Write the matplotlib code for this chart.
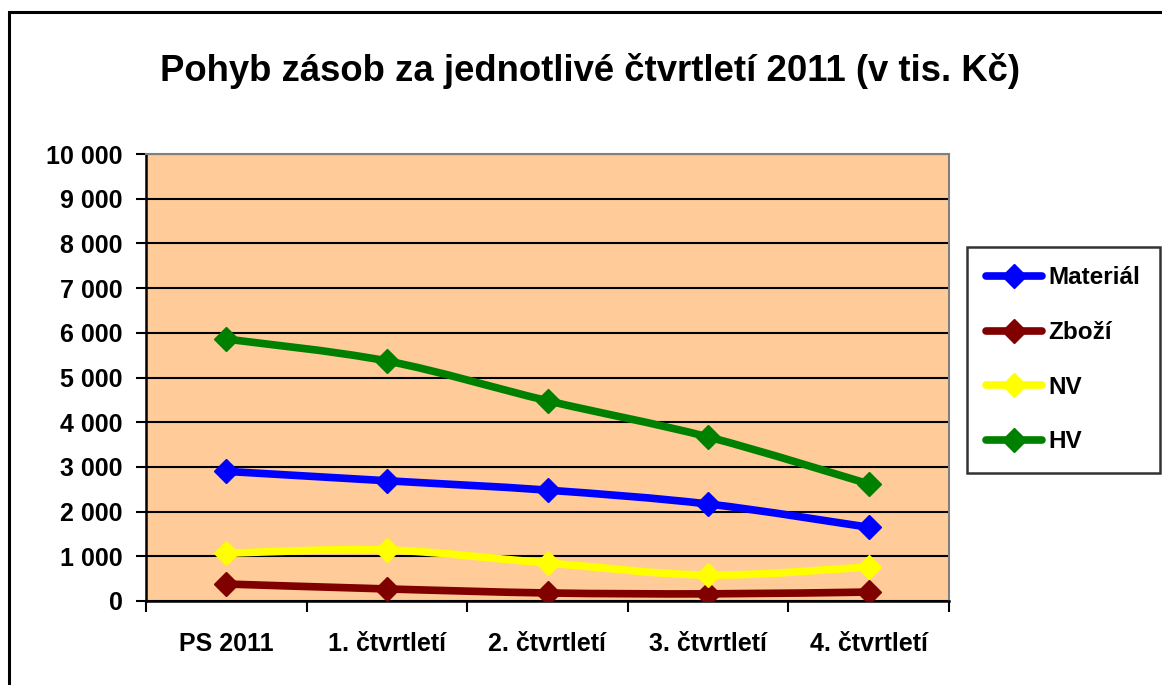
import numpy as np
import matplotlib
matplotlib.use("Agg")
import matplotlib.pyplot as plt
from matplotlib.path import Path
from matplotlib.patches import PathPatch, Rectangle
from matplotlib.lines import Line2D

plt.rcParams['font.family'] = ['Liberation Sans', 'DejaVu Sans']
plt.rcParams['font.weight'] = 'bold'

categories = ["PS 2011", "1. čtvrtletí", "2. čtvrtletí", "3. čtvrtletí", "4. čtvrtletí"]
material = [2900, 2690, 2480, 2170, 1650]
zbozi = [380, 270, 180, 160, 200]
nv = [1070, 1140, 850, 580, 760]
hv = [5860, 5370, 4480, 3670, 2620]

series = [("Materiál", material, "#0000FF"),
          ("Zboží", zbozi, "#800000"),
          ("NV", nv, "#FFFF00"),
          ("HV", hv, "#008000")]


def smooth_path(x, y):
    # Excel-like smoothed line: cubic Bezier with Catmull-Rom tangents
    pts = np.column_stack([x, y]).astype(float)
    ext = np.vstack([pts[0], pts, pts[-1]])
    verts = [pts[0]]
    codes = [Path.MOVETO]
    for i in range(len(pts) - 1):
        p0, p1, p2, p3 = ext[i], ext[i + 1], ext[i + 2], ext[i + 3]
        c1 = p1 + (p2 - p0) / 6.0
        c2 = p2 - (p3 - p1) / 6.0
        verts += [c1, c2, p2]
        codes += [Path.CURVE4] * 3
    return Path(verts, codes)


fig = plt.figure(figsize=(11.62, 6.85), dpi=100)
fig.patches.append(Rectangle((9 / 1162, -0.1), 1.2, 1 - 12 / 685 + 0.1,
                             transform=fig.transFigure, fill=False,
                             edgecolor="black", linewidth=2.2))

ax = fig.add_axes([146 / 1162, 84 / 685, 803 / 1162, 447 / 685])
ax.set_facecolor("#FFCC99")
x = np.arange(len(categories))

for name, vals, col in series:
    patch = PathPatch(smooth_path(x, vals), facecolor="none", edgecolor=col,
                      linewidth=5.5, capstyle="round", joinstyle="round", zorder=3)
    ax.add_patch(patch)
    ax.plot(x, vals, linestyle="none", marker="D", markersize=12,
            color=col, zorder=4)

ax.set_xlim(-0.5, len(categories) - 0.5)
ax.set_ylim(0, 10000)
ax.set_yticks(np.arange(0, 10001, 1000))
ax.set_yticklabels([f"{v:,}".replace(",", " ") for v in range(0, 10001, 1000)],
                   fontsize=18, fontweight="bold")
ax.yaxis.grid(True, color="black", linewidth=1.5)
ax.set_axisbelow(True)

ax.set_xticks(np.arange(-0.5, len(categories), 1.0))
ax.set_xticklabels([])
ax.set_xticks(x, minor=True)
ax.set_xticklabels(categories, minor=True, fontsize=18, fontweight="bold")
ax.tick_params(axis="x", which="minor", length=0, pad=22)
ax.tick_params(axis="x", which="major", length=8, width=1.5, direction="out")
ax.tick_params(axis="y", length=7, width=1.5, direction="out", pad=10)

for s in ["left", "bottom"]:
    ax.spines[s].set_linewidth(1.8)
    ax.spines[s].set_color("black")
for s in ["top", "right"]:
    ax.spines[s].set_linewidth(1.5)
    ax.spines[s].set_color("#808080")

fig.text(0.508, 1 - 71 / 685, "Pohyb zásob za jednotlivé čtvrtletí 2011 (v tis. Kč)",
         ha="center", va="center", fontsize=26.3, fontweight="bold")

handles = [Line2D([0], [0], color=col, linewidth=5.5, marker="D", markersize=12,
                  solid_capstyle="round") for _, _, col in series]
leg = fig.legend(handles, [n for n, _, _ in series], loc="upper left",
                 bbox_to_anchor=(967 / 1162, 1 - 247 / 685),
                 prop={"size": 17.5, "weight": "bold"}, frameon=True, fancybox=False,
                 handlelength=2.3, handletextpad=0.25, labelspacing=1.3,
                 borderpad=0.8, borderaxespad=0)
leg.get_frame().set_edgecolor("black")
leg.get_frame().set_linewidth(1.8)

fig.savefig("out.png", dpi=100, facecolor="white")
